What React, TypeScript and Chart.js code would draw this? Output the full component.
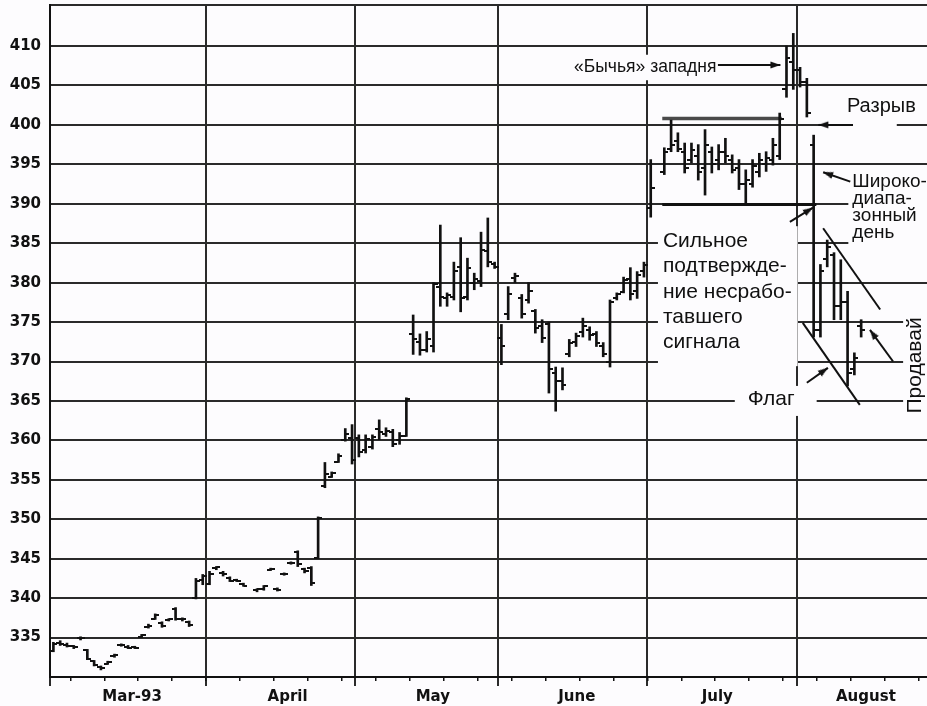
import React, { useEffect, useRef } from 'react';
import { Chart, registerables } from 'chart.js';

Chart.register(...registerables);

// ---------- data: one entry per weekday starting Mon 1 Mar 1993 (null = holiday) ----------
const OPEN: (number | null)[] = [
  333.3, 334.3, 334.1, 333.9, 334.9, 333.4, 332.0, 331.3, 331.7, 332.6, 334.0, 333.8, 333.8, 335.1, 336.4, 337.4, 336.9, 337.2, 338.6, 337.3, 337.0, 340.0, 342.3,
  341.8, 343.8, 343.2, 342.6, 342.3, 341.8, null, 341.0, 341.2, 343.6, 341.2, 343.0, 344.4, 345.8, 343.7, 343.8, 345.1, 354.2, 355.4, 357.3, 360.0, 360.3,
  360.3, 358.8, 359.2, 361.5, 360.8, 361.0, 360.0, 360.6, 373.5, 372.5, 371.5, 372.0, 379.5, 378.0, 378.2, 382.0, 378.2, 380.0, 380.2, 384.0, 382.4,
  373.0, 376.0, 380.6, 378.0, 377.8, 376.4, 374.5, 374.8, 368.5, 367.5, 371.0, 372.5, 373.8, 374.0, 373.5, 372.0, 370.0, 378.0, 378.8, 380.5, 379.0, 381.5,
  389.5, null, 394.0, 397.0, 398.0, 396.5, 395.5, 396.0, 394.5, 396.5, 395.5, 396.5, 395.5, 394.5, 392.5, 392.5, 394.0, 395.0, 395.5, 396.0, 404.5, 408.0,
  407.0, 405.5, 397.5, 374.0, 383.0, 383.5, 377.0, 377.5, 369.0, 374.5,
];
const HIGH: (number | null)[] = [
  334.4, 334.6, 334.3, 334.0, 335.1, 333.5, 332.1, 331.4, 332.0, 332.9, 334.2, 334.0, 333.9, 335.4, 336.7, 338.0, 337.0, 337.4, 338.8, 337.5, 337.1, 342.5, 343.0,
  343.4, 344.0, 343.4, 342.7, 342.4, 341.9, null, 341.2, 341.6, 343.8, 341.3, 343.2, 344.6, 346.0, 343.8, 344.0, 350.3, 357.2, 356.0, 358.3, 361.5, 362.0,
  360.7, 360.7, 360.7, 362.6, 361.6, 361.4, 361.0, 365.4, 375.9, 373.5, 373.8, 380.0, 387.3, 378.7, 382.6, 385.7, 383.1, 381.2, 386.4, 388.2, 382.6,
  374.7, 379.5, 381.2, 378.5, 380.0, 376.6, 375.3, 375.0, 369.3, 369.2, 372.8, 373.6, 375.5, 374.4, 373.8, 372.4, 377.8, 378.7, 380.7, 381.9, 381.4, 382.6,
  395.6, null, 397.1, 400.6, 399.0, 397.7, 397.7, 397.5, 399.4, 397.2, 397.5, 398.3, 396.2, 395.6, 394.3, 395.6, 396.4, 396.6, 398.3, 401.5, 410.0, 411.6,
  407.3, 405.9, 398.7, 382.3, 385.4, 383.8, 382.9, 378.9, 371.1, 375.3,
];
const LOW: (number | null)[] = [
  333.2, 334.0, 333.8, 333.6, 334.7, 332.2, 331.4, 330.9, 331.6, 332.5, 333.9, 333.6, 333.6, 335.0, 336.2, 337.3, 336.3, 337.1, 337.2, 337.1, 336.4, 339.9, 341.7,
  341.7, 343.6, 342.8, 342.1, 342.1, 341.5, null, 340.8, 341.0, 343.5, 340.9, 342.9, 344.3, 344.0, 343.2, 341.6, 345.0, 354.0, 355.3, 357.2, 359.9, 357.0,
  357.9, 358.4, 358.9, 360.1, 360.5, 359.2, 359.5, 360.5, 370.9, 370.8, 371.2, 371.2, 377.0, 377.0, 377.8, 376.3, 377.8, 379.1, 379.5, 382.0, 381.8,
  369.6, 375.3, 380.0, 375.5, 377.4, 373.6, 372.4, 366.0, 363.7, 366.4, 370.6, 371.9, 373.1, 372.7, 371.9, 370.6, 369.3, 377.8, 378.7, 377.8, 378.0, 380.7,
  388.3, null, 393.7, 396.6, 396.6, 393.9, 395.2, 393.0, 391.1, 393.9, 394.3, 395.2, 393.9, 391.8, 389.9, 392.1, 393.4, 394.1, 394.9, 395.6, 403.5, 404.5,
  404.8, 401.0, 373.1, 373.1, 382.0, 375.3, 375.3, 366.9, 368.3, 373.1,
];
const CLOSE: (number | null)[] = [
  334.2, 334.2, 333.9, 333.8, 335.0, 332.3, 331.5, 331.1, 331.9, 332.8, 334.1, 333.7, 333.7, 335.3, 336.5, 337.8, 336.5, 337.3, 337.4, 337.3, 336.6, 342.2, 342.8,
  343.0, 343.9, 343.0, 342.2, 342.2, 341.6, null, 341.1, 341.5, 343.7, 341.0, 343.1, 344.5, 344.3, 343.4, 341.9, 350.2, 355.8, 355.9, 358.0, 360.8, 357.5,
  358.5, 360.2, 360.4, 361.0, 361.2, 359.6, 360.6, 365.2, 372.8, 371.5, 372.8, 379.8, 378.2, 378.4, 381.5, 378.0, 381.8, 380.5, 384.2, 382.6, 382.0,
  372.0, 378.5, 380.8, 376.0, 379.0, 374.2, 373.0, 369.0, 367.5, 367.0, 372.3, 373.2, 374.5, 373.4, 372.4, 371.0, 377.5, 378.5, 380.3, 378.5, 381.0, 382.2,
  392.0, null, 396.5, 397.5, 397.0, 394.5, 396.8, 394.0, 397.5, 395.0, 396.5, 396.0, 394.3, 392.5, 393.0, 394.8, 395.5, 395.8, 397.5, 400.8, 408.5, 407.0,
  405.5, 401.5, 374.0, 381.5, 384.5, 377.0, 377.5, 368.5, 370.5, 374.0,
];

// ---------- axes ----------
const MONTH_STARTS = [0, 23, 45, 66, 88, 110];
const MONTH_LABELS = ['Mar-93', 'April', 'May', 'June', 'July', 'August'];
const MONTH_LABEL_AT = [12.1, 35.0, 56.4, 77.6, 98.3, 120.2];
const WEEK_TICKS = [3, 8, 13, 18, 23, 28, 33, 38, 43, 48, 53, 58, 63, 68, 73, 78, 83, 88, 93, 98, 103, 108, 113, 118, 123, 128];
const Y_TICKS = [335, 340, 345, 350, 355, 360, 365, 370, 375, 380, 385, 390, 395, 400, 405, 410];
const X_MIN = 0;
const X_MAX = 129.2;
const Y_MIN = 330;
const Y_MAX = 415.2;

// ---------- annotation lines (day index, price) ----------
const RESISTANCE = [{ x: 90.2, y: 400.8 }, { x: 107.8, y: 400.8 }];
const SUPPORT = [{ x: 90.2, y: 389.9 }, { x: 112.9, y: 389.9 }];
const FLAG_UPPER = [{ x: 113.9, y: 386.9 }, { x: 122.3, y: 376.6 }];
const FLAG_LOWER = [{ x: 110.9, y: 374.9 }, { x: 119.3, y: 364.5 }];
const ARROW_TRAP = [{ x: 98.4, y: 407.6 }, { x: 107.6, y: 407.6 }];
const ARROW_GAP = [{ x: 118.3, y: 400.0 }, { x: 113.2, y: 400.0 }];
const ARROW_WIDE = [{ x: 117.9, y: 392.8 }, { x: 113.9, y: 394.0 }];
const ARROW_SUPPORT = [{ x: 109.0, y: 387.7 }, { x: 112.4, y: 389.5 }];
const ARROW_FLAG = [{ x: 111.5, y: 367.3 }, { x: 114.6, y: 369.2 }];
const ARROW_SELL = [{ x: 124.2, y: 370.0 }, { x: 120.8, y: 374.0 }];

// ---------- annotation texts ----------
const NOTE_TRAP = ['«Бычья» западня'];
const NOTE_GAP = ['Разрыв'];
const NOTE_WIDE = ['Широко-', 'диапа-', 'зонный', 'день'];
const NOTE_CONFIRM = ['Сильное', 'подтвержде-', 'ние несрабо-', 'тавшего', 'сигнала'];
const NOTE_FLAG = ['Флаг'];
const NOTE_SELL = 'Продавай';

const INK = '#111111';
const PAPER = '#fdfcfe';
const GRID = '#2a2a2a';
const NOTE_FONT = '"Liberation Sans", Arial, sans-serif';

type Note = { lines: string[]; x: number; y: number; size: number; gap: number; pad: number[] };
const NOTES: Note[] = [
  { lines: NOTE_TRAP, x: 77.2, y: 406.7, size: 17.5, gap: 0, pad: [4, 4, 4, 4] },
  { lines: NOTE_GAP, x: 117.4, y: 401.6, size: 20, gap: 0, pad: [0, 3, -19, 11] },
  { lines: NOTE_WIDE, x: 118.2, y: 392.1, size: 19, gap: 17, pad: [4, 4, 5, 4] },
  { lines: NOTE_CONFIRM, x: 90.3, y: 384.5, size: 21, gap: 25.25, pad: [5, 5, 6, 13] },
  { lines: NOTE_FLAG, x: 102.8, y: 364.5, size: 21, gap: 0, pad: [13, 3, 22, 6] },
];
const SELL_AT = { x: 127.45, y: 369.5, size: 21 };

export default function App() {
  const ref = useRef<HTMLCanvasElement>(null);

  useEffect(() => {
    document.body.style.margin = '0';
    const canvas = ref.current;
    if (!canvas) return;

    const mkTick = (left: boolean) => {
      const c = document.createElement('canvas');
      c.width = 8;
      c.height = 2;
      const g = c.getContext('2d')!;
      g.fillStyle = INK;
      g.fillRect(left ? 0 : 4, 0, 4, 2);
      return c;
    };
    const openImg = mkTick(true);
    const closeImg = mkTick(false);

    const head = document.createElement('canvas');
    head.width = 22;
    head.height = 10;
    {
      const g = head.getContext('2d')!;
      g.fillStyle = INK;
      g.beginPath();
      g.moveTo(1, 1.5);
      g.lineTo(11, 5);
      g.lineTo(1, 8.5);
      g.closePath();
      g.fill();
    }

    const ranges: any[] = [];
    const opens: any[] = [];
    const closes: any[] = [];
    for (let i = 0; i < HIGH.length; i++) {
      const h = HIGH[i], l = LOW[i], o = OPEN[i], c = CLOSE[i];
      if (h == null || l == null) continue;
      ranges.push({ x: i + 0.5, y: [l, h] });
      if (o != null) opens.push({ x: i + 0.5, y: o });
      if (c != null) closes.push({ x: i + 0.5, y: c });
    }

    const rot = (ctx: any) => {
      const d = ctx.dataset.data;
      const xs = ctx.chart.scales.x, ys = ctx.chart.scales.y;
      const dx = xs.getPixelForValue(d[1].x) - xs.getPixelForValue(d[0].x);
      const dy = ys.getPixelForValue(d[1].y) - ys.getPixelForValue(d[0].y);
      return (Math.atan2(dy, dx) * 180) / Math.PI;
    };

    const line = (data: any[], color: string, width: number) => ({
      type: 'scatter',
      data,
      showLine: true,
      borderColor: color,
      backgroundColor: color,
      borderWidth: width,
      pointRadius: 0,
      order: 5,
    });
    const arrow = (data: any[]) => ({
      type: 'scatter',
      data,
      showLine: true,
      borderColor: INK,
      backgroundColor: INK,
      borderWidth: 2,
      pointRadius: [0, 5],
      pointStyle: head,
      pointRotation: rot,
      order: 4,
    });

    const notesPlugin = {
      id: 'notes',
      beforeDraw(chart: any) {
        const ctx = chart.ctx;
        ctx.save();
        ctx.fillStyle = PAPER;
        ctx.fillRect(0, 0, chart.width, chart.height);
        ctx.restore();
      },
      beforeDatasetsDraw(chart: any) {
        const ctx = chart.ctx;
        const xs = chart.scales.x, ys = chart.scales.y;
        ctx.save();
        ctx.fillStyle = PAPER;
        for (const n of NOTES) {
          ctx.font = `${n.size}px ${NOTE_FONT}`;
          const w = Math.max(...n.lines.map((s) => ctx.measureText(s).width));
          const px = xs.getPixelForValue(n.x), py = ys.getPixelForValue(n.y);
          const top = py - n.size * 0.76 - n.pad[1];
          const bottom = py + (n.lines.length - 1) * n.gap + n.size * 0.24 + n.pad[3];
          const left = px - n.pad[0];
          const right = px + w + n.pad[2];
          ctx.fillRect(left, top, right - left, bottom - top);
        }
        ctx.font = `${SELL_AT.size}px ${NOTE_FONT}`;
        const sw = ctx.measureText(NOTE_SELL).width;
        const cx = xs.getPixelForValue(SELL_AT.x), cy = ys.getPixelForValue(SELL_AT.y);
        ctx.fillRect(cx - 12, cy - sw / 2 - 4, 24, sw + 8);
        ctx.restore();
      },
      afterDatasetsDraw(chart: any) {
        const ctx = chart.ctx;
        const xs = chart.scales.x, ys = chart.scales.y;
        ctx.save();
        ctx.fillStyle = INK;
        ctx.textAlign = 'left';
        ctx.textBaseline = 'alphabetic';
        for (const n of NOTES) {
          ctx.font = `${n.size}px ${NOTE_FONT}`;
          const px = xs.getPixelForValue(n.x), py = ys.getPixelForValue(n.y);
          n.lines.forEach((s, k) => ctx.fillText(s, px, py + k * n.gap));
        }
        ctx.font = `${SELL_AT.size}px ${NOTE_FONT}`;
        const cx = xs.getPixelForValue(SELL_AT.x), cy = ys.getPixelForValue(SELL_AT.y);
        ctx.translate(cx, cy);
        ctx.rotate(-Math.PI / 2);
        ctx.textAlign = 'center';
        ctx.textBaseline = 'middle';
        ctx.fillText(NOTE_SELL, 0, 0);
        ctx.restore();
      },
    };

    const setTicks = (vals: number[]) => (s: any) => {
      s.ticks = vals.map((v) => ({ value: v }));
    };
    const fitTo = (h: number | null, w: number | null) => (s: any) => {
      if (h != null) s.height = h;
      if (w != null) s.width = w;
      s.paddingLeft = 0;
      s.paddingRight = 0;
      s.paddingTop = 0;
      s.paddingBottom = 0;
    };

    const chart = new Chart(canvas, {
      type: 'scatter',
      data: {
        datasets: [
          { type: 'bar', data: ranges, backgroundColor: INK, borderWidth: 0, barThickness: 2, order: 1 } as any,
          { type: 'scatter', data: opens, pointStyle: openImg, pointRadius: 3, order: 0 } as any,
          { type: 'scatter', data: closes, pointStyle: closeImg, pointRadius: 3, order: 0 } as any,
          line(RESISTANCE, '#4a4a4a', 3.5),
          line(SUPPORT, INK, 3),
          line(FLAG_UPPER, INK, 2),
          line(FLAG_LOWER, INK, 2),
          arrow(ARROW_TRAP),
          arrow(ARROW_GAP),
          arrow(ARROW_WIDE),
          arrow(ARROW_SUPPORT),
          arrow(ARROW_FLAG),
          arrow(ARROW_SELL),
        ] as any,
      },
      options: {
        responsive: false,
        animation: false,
        devicePixelRatio: 1,
        events: [],
        layout: { autoPadding: false, padding: { top: 5, right: 0, left: 0, bottom: 0 } },
        plugins: { legend: { display: false }, tooltip: { enabled: false } },
        scales: {
          x: {
            type: 'linear',
            position: 'bottom',
            min: X_MIN,
            max: X_MAX,
            offset: false,
            weight: 0,
            afterBuildTicks: setTicks(MONTH_STARTS),
            afterFit: fitTo(0, null),
            grid: { color: GRID, lineWidth: 2, tickLength: 9, offset: false },
            border: { color: INK, width: 2 },
            ticks: { display: false },
          },
          xWeeks: {
            type: 'linear',
            position: 'bottom',
            min: X_MIN,
            max: X_MAX,
            offset: false,
            weight: 1,
            afterBuildTicks: setTicks(WEEK_TICKS),
            afterFit: fitTo(0, null),
            grid: { drawOnChartArea: false, color: INK, lineWidth: 1.5, tickLength: 4, offset: false },
            border: { display: false },
            ticks: { display: false },
          },
          xLabels: {
            type: 'linear',
            position: 'bottom',
            min: X_MIN,
            max: X_MAX,
            offset: false,
            weight: 2,
            afterBuildTicks: setTicks(MONTH_LABEL_AT),
            afterFit: fitTo(29, null),
            grid: { display: false, drawTicks: false },
            border: { display: false },
            ticks: {
              autoSkip: false,
              maxRotation: 0,
              padding: 11,
              color: INK,
              font: { family: 'DejaVu Sans', size: 15, weight: 'bold' },
              callback: (_v: any, i: number) => MONTH_LABELS[i],
            },
          },
          y: {
            type: 'linear',
            position: 'left',
            min: Y_MIN,
            max: Y_MAX,
            afterBuildTicks: setTicks([Y_MIN, ...Y_TICKS, Y_MAX]),
            afterFit: fitTo(null, 50),
            grid: { color: GRID, lineWidth: 2, drawTicks: false },
            border: { color: INK, width: 2 },
            ticks: {
              autoSkip: false,
              padding: 9,
              color: INK,
              font: { family: 'DejaVu Sans', size: 15, weight: 'bold' },
              callback: (v: any) => (Y_TICKS.includes(v) ? String(v) : ''),
            },
          },
        } as any,
      },
      plugins: [notesPlugin],
    } as any);

    return () => chart.destroy();
  }, []);

  return (
    <div style={{ position: 'fixed', left: 0, top: 0, width: 927, height: 706, background: PAPER }}>
      <canvas ref={ref} width={927} height={706} style={{ display: 'block', width: 927, height: 706 }} />
    </div>
  );
}
